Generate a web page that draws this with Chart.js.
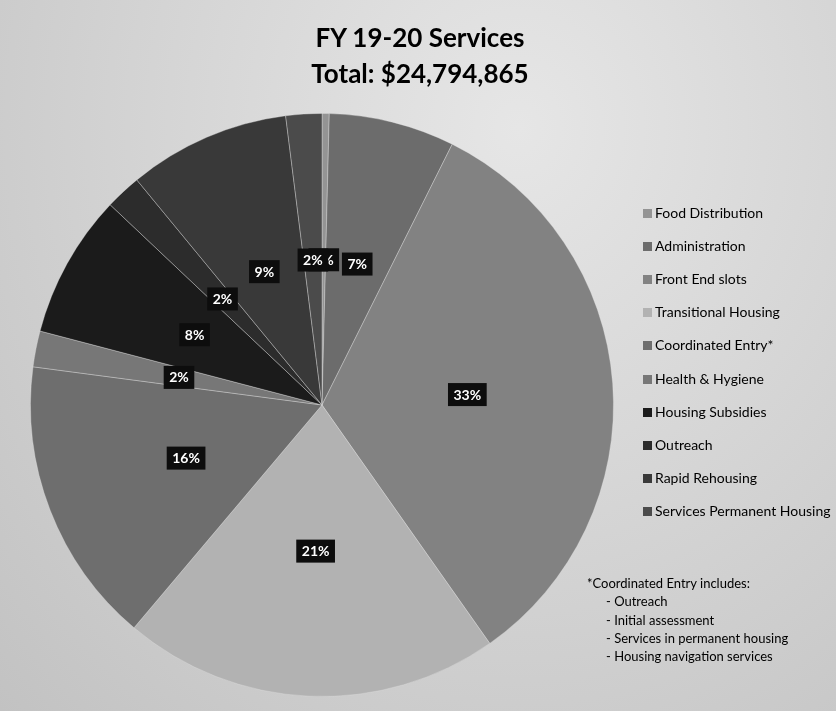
<!DOCTYPE html>
<html lang="en">
<head>
<meta charset="UTF-8">
<title>FY 19-20 Services</title>
<script src="https://cdn.jsdelivr.net/npm/chart.js"></script>
<style>
  body { margin: 0; overflow: hidden; }
  #wrap {
    position: relative; width: 836px; height: 711px;
    background: radial-gradient(ellipse at 62% 18%, #e6e6e6 0%, #d6d6d6 45%, #c2c2c2 100%);
    font-family: Lato, "Open Sans", sans-serif; color: #000;
  }
  #chart { position: absolute; left: 0; top: 0; }
  .title { position: absolute; left: 0; width: 840px; text-align: center; font-weight: bold; font-size: 26px; }
  .legend-item { position: absolute; left: 643px; font-size: 14px; line-height: 18px; white-space: nowrap; }
  .legend-item span { display: inline-block; width: 9px; height: 9px; margin-right: 3px; vertical-align: 0px; }
  #note { position: absolute; left: 587px; top: 574px; font-size: 13px; line-height: 18.3px; white-space: nowrap; }
  #note div + div { padding-left: 19px; }
</style>
</head>
<body>
<div id="wrap">
  <canvas id="chart" width="836" height="711"></canvas>
  <div class="title" style="top:21px">FY 19-20 Services</div>
  <div class="title" style="top:57px">Total: $24,794,865</div>
  <div id="legend"></div>
  <div id="note">
    <div>*Coordinated Entry includes:</div>
    <div>- Outreach</div>
    <div>- Initial assessment</div>
    <div>- Services in permanent housing</div>
    <div>- Housing navigation services</div>
  </div>
</div>
<script>
  const categories = ['Food Distribution', 'Administration', 'Front End slots', 'Transitional Housing',
    'Coordinated Entry*', 'Health & Hygiene', 'Housing Subsidies', 'Outreach', 'Rapid Rehousing',
    'Services Permanent Housing'];
  // share of the total, in percent
  const shares = [0.4, 7, 33, 21, 16, 2, 8, 2, 9, 2];
  const colors = ['#949494', '#6c6c6c', '#828282', '#b2b2b2', '#6e6e6e', '#777777',
    '#1b1b1b', '#2c2c2c', '#393939', '#4b4b4b'];

  // html legend
  const legend = document.getElementById('legend');
  categories.forEach((name, i) => {
    const row = document.createElement('div');
    row.className = 'legend-item';
    row.style.top = (204 + i * 33.1) + 'px';
    row.innerHTML = '<span style="background:' + colors[i] + '"></span>';
    row.appendChild(document.createTextNode(name));
    legend.appendChild(row);
  });

  // black boxes with white percentages in the middle of each slice
  const sliceLabels = {
    id: 'sliceLabels',
    afterDatasetsDraw(chart) {
      const ctx = chart.ctx;
      const meta = chart.getDatasetMeta(0);
      const data = chart.data.datasets[0].data;
      const total = data.reduce((a, b) => a + b, 0);
      ctx.save();
      ctx.font = 'bold 14px Lato, sans-serif';
      ctx.textAlign = 'center';
      ctx.textBaseline = 'middle';
      meta.data.forEach((arc, i) => {
        const p = arc.getCenterPoint();
        const txt = Math.round(data[i] / total * 100) + '%';
        const w = ctx.measureText(txt).width + 11;
        ctx.fillStyle = '#0d0d0d';
        ctx.fillRect(p.x - w / 2, p.y - 11, w, 23);
        ctx.fillStyle = '#fff';
        ctx.fillText(txt, p.x, p.y + 1);
      });
      ctx.restore();
    }
  };

  new Chart(document.getElementById('chart'), {
    type: 'pie',
    data: {
      labels: categories,
      datasets: [{
        data: shares,
        backgroundColor: colors,
        borderColor: 'rgba(230,230,230,0.35)',
        borderWidth: 1
      }]
    },
    options: {
      responsive: false,
      animation: false,
      layout: { padding: { left: 30, top: 113, right: 222, bottom: 14 } },
      plugins: {
        legend: { display: false },
        title: { display: false },
        tooltip: { enabled: false }
      }
    },
    plugins: [sliceLabels]
  });
</script>
</body>
</html>
